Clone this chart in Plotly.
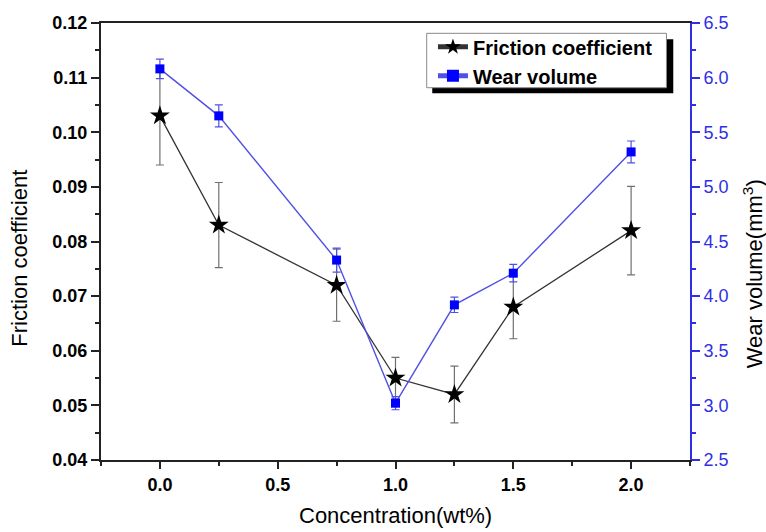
import plotly.graph_objects as go

concentration = [0.0, 0.25, 0.75, 1.0, 1.25, 1.5, 2.0]
friction = [0.103, 0.083, 0.072, 0.055, 0.052, 0.068, 0.082]
friction_err = [0.009, 0.0078, 0.0066, 0.0038, 0.0052, 0.0058, 0.0081]
wear = [6.08, 5.65, 4.33, 3.02, 3.92, 4.21, 5.32]
wear_err = [0.09, 0.10, 0.11, 0.06, 0.07, 0.08, 0.10]

FONT = "Liberation Sans, Arial, sans-serif"
BLUE = "#2f2fe6"

fig = go.Figure()
fig.add_trace(go.Scatter(
    x=concentration, y=friction, name="Friction coefficient",
    mode="lines+markers",
    line=dict(color="#333333", width=1.3),
    marker=dict(symbol="star", size=15, color="black"),
    error_y=dict(type="data", array=friction_err, color="#707070", thickness=1.2, width=4),
))
fig.add_trace(go.Scatter(
    x=concentration, y=wear, name="Wear volume", yaxis="y2",
    mode="lines+markers",
    line=dict(color="#5050e4", width=1.4),
    marker=dict(symbol="square", size=9, color="#0000ff"),
    error_y=dict(type="data", array=wear_err, color="#5050e8", thickness=1.2, width=4),
))

fig.update_layout(
    width=766, height=532,
    margin=dict(l=101, r=76, t=23, b=72),
    paper_bgcolor="white", plot_bgcolor="white",
    font=dict(family=FONT, color="black"),
    showlegend=True,
    legend=dict(
        x=0.5636, y=0.990, xanchor="left", yanchor="top",
        bgcolor="rgba(0,0,0,0)", borderwidth=0,
        font=dict(size=20, weight="bold", color="black", family=FONT),
        tracegroupgap=0, itemsizing="constant",
    ),
    xaxis=dict(
        range=[-0.25, 2.25], dtick=0.5, tick0=0, tickformat=".1f",
        showline=True, linecolor="#222", linewidth=2, mirror=True,
        ticks="outside", ticklen=7, tickwidth=1.5, tickcolor="#222",
        minor=dict(dtick=0.25, tick0=0, ticks="outside", ticklen=4, tickwidth=1.5, tickcolor="#222"),
        tickfont=dict(size=18, weight="bold", color="black"),
        showgrid=False, zeroline=False,
    ),
    yaxis=dict(
        range=[0.04, 0.12], dtick=0.01, tick0=0.04, tickformat=".2f",
        showline=True, linecolor="#222", linewidth=2,
        ticks="outside", ticklen=8, tickwidth=1.5, tickcolor="#222",
        minor=dict(dtick=0.005, ticks="outside", ticklen=4, tickwidth=1.5, tickcolor="#222"),
        tickfont=dict(size=18, weight="bold", color="black"),
        showgrid=False, zeroline=False,
    ),
    yaxis2=dict(
        range=[2.5, 6.5], dtick=0.5, tick0=2.5, tickformat=".1f",
        overlaying="y", side="right",
        showline=True, linecolor=BLUE, linewidth=2,
        ticks="outside", ticklen=8, tickwidth=1.5, tickcolor=BLUE,
        minor=dict(dtick=0.25, ticks="outside", ticklen=4, tickwidth=1.5, tickcolor=BLUE),
        tickfont=dict(size=18, color=BLUE),
        showgrid=False, zeroline=False,
    ),
    shapes=[
        dict(type="rect", xref="paper", yref="paper", x0=0.5624, x1=0.9716, y0=0.8391, y1=0.9627,
             fillcolor="black", line=dict(width=0), layer="above"),
        dict(type="rect", xref="paper", yref="paper", x0=0.553, x1=0.960, y0=0.8519, y1=0.9764,
             fillcolor="white", line=dict(color="#888", width=1), layer="above"),
    ],
    annotations=[
        dict(text="Concentration(wt%)", xref="paper", yref="paper", x=0.5, y=-0.127,
             xanchor="center", yanchor="middle", showarrow=False, font=dict(size=22)),
        dict(text="Friction coefficient", xref="paper", yref="paper", x=-0.1383, y=0.462,
             xanchor="center", yanchor="middle", textangle=-90, showarrow=False, font=dict(size=22)),
        dict(text="Wear volume(mm<sup>3</sup>)", xref="paper", yref="paper", x=1.1069, y=0.427,
             xanchor="center", yanchor="middle", textangle=-90, showarrow=False, font=dict(size=22)),
    ],
)

fig.write_html("out.html")
